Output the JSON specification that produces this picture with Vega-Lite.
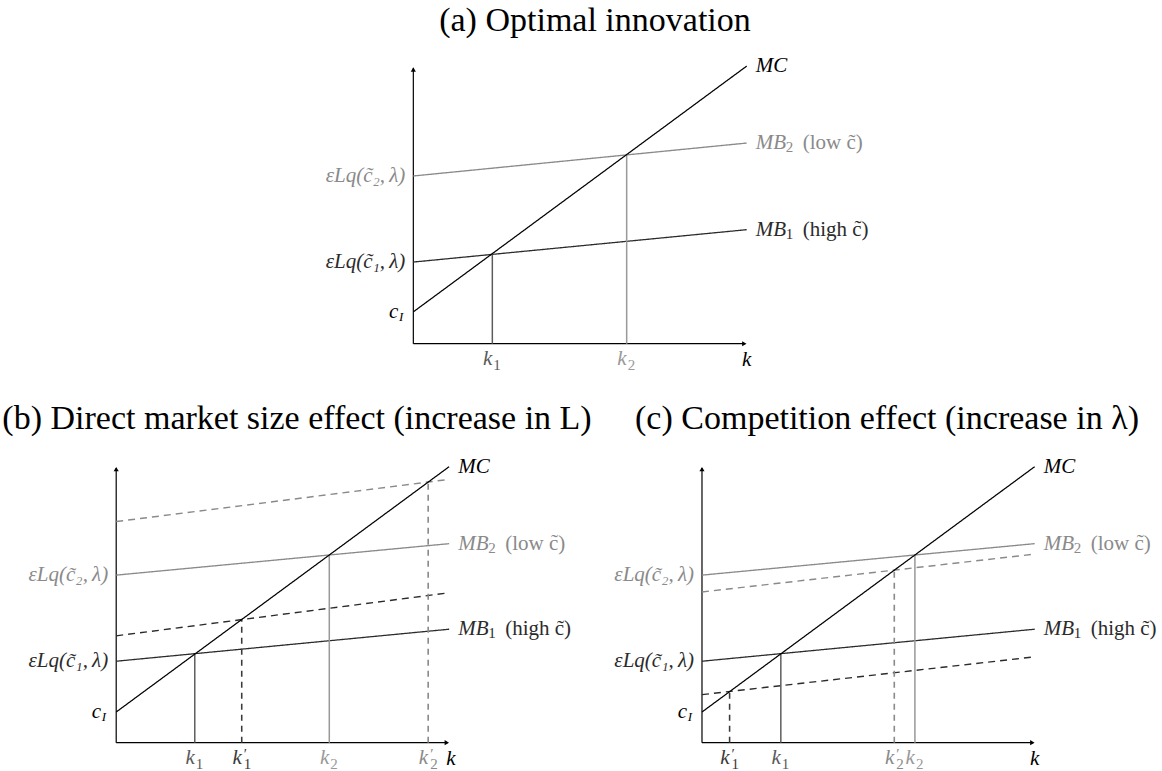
{
  "$schema": "https://vega.github.io/schema/vega-lite/v6.json",
  "padding": {"top": 4, "left": 0, "right": 0, "bottom": 0},
  "background": "white",
  "config": {
    "view": {"stroke": null},
    "title": {"font": "Liberation Serif", "fontSize": 34, "fontWeight": "normal", "color": "#000000", "baseline": "alphabetic"},
    "text": {"font": "Liberation Serif", "baseline": "middle", "fontSize": 21}
  },
  "datasets": {
    "arrows": [
      {"x": 9.93, "y": 0, "dir": "right"},
      {"x": 0, "y": 9.91, "dir": "up"}
    ],
    "a_lines": [
      {"curve": "axis", "x": 0, "y": 0, "x2": 9.95, "y2": 0},
      {"curve": "axis", "x": 0, "y": 0, "x2": 0, "y2": 9.95},
      {"curve": "MB2", "x": 0, "y": 6.06, "x2": 10, "y2": 7.25},
      {"curve": "MB1", "x": 0, "y": 2.95, "x2": 10, "y2": 4.12},
      {"curve": "k1", "x": 2.37, "y": 0, "x2": 2.37, "y2": 3.24},
      {"curve": "k2", "x": 6.4, "y": 0, "x2": 6.4, "y2": 6.82},
      {"curve": "MC", "x": 0, "y": 1.15, "x2": 10, "y2": 10.03}
    ],
    "b_lines": [
      {"curve": "axis", "x": 0, "y": 0, "x2": 9.95, "y2": 0},
      {"curve": "axis", "x": 0, "y": 0, "x2": 0, "y2": 9.95},
      {"curve": "MB2 shifted", "x": 0, "y": 8.01, "x2": 10, "y2": 9.54},
      {"curve": "MB2", "x": 0, "y": 6.07, "x2": 10, "y2": 7.21},
      {"curve": "MB1 shifted", "x": 0, "y": 3.87, "x2": 10, "y2": 5.43},
      {"curve": "MB1", "x": 0, "y": 2.95, "x2": 10, "y2": 4.11},
      {"curve": "k1", "x": 2.36, "y": 0, "x2": 2.36, "y2": 3.21},
      {"curve": "k1 shifted", "x": 3.77, "y": 0, "x2": 3.77, "y2": 4.46},
      {"curve": "k2", "x": 6.4, "y": 0, "x2": 6.4, "y2": 6.8},
      {"curve": "k2 shifted", "x": 9.37, "y": 0, "x2": 9.37, "y2": 9.44},
      {"curve": "MC", "x": 0, "y": 1.11, "x2": 10, "y2": 10.0}
    ],
    "c_lines": [
      {"curve": "axis", "x": 0, "y": 0, "x2": 9.95, "y2": 0},
      {"curve": "axis", "x": 0, "y": 0, "x2": 0, "y2": 9.95},
      {"curve": "MB2", "x": 0, "y": 6.07, "x2": 10, "y2": 7.21},
      {"curve": "MB2 shifted", "x": 0, "y": 5.46, "x2": 10, "y2": 6.83},
      {"curve": "MB1", "x": 0, "y": 2.95, "x2": 10, "y2": 4.11},
      {"curve": "MB1 shifted", "x": 0, "y": 1.74, "x2": 10, "y2": 3.11},
      {"curve": "k1 shifted", "x": 0.83, "y": 0, "x2": 0.83, "y2": 1.85},
      {"curve": "k1", "x": 2.37, "y": 0, "x2": 2.37, "y2": 3.22},
      {"curve": "k2 shifted", "x": 5.78, "y": 0, "x2": 5.78, "y2": 6.25},
      {"curve": "k2", "x": 6.4, "y": 0, "x2": 6.4, "y2": 6.8},
      {"curve": "MC", "x": 0, "y": 1.11, "x2": 10, "y2": 10.0}
    ],
    "a_labels": [
      {"role": "left", "x": 0, "y": 6.06, "text": "\u03b5Lq(c\u0303\u2082,\u2009\u03bb)", "curve": "MB2"},
      {"role": "left", "x": 0, "y": 2.95, "text": "\u03b5Lq(c\u0303\u2081,\u2009\u03bb)", "curve": "MB1"},
      {"role": "cI", "x": 0, "y": 1.15, "text": "c", "curve": "MC"},
      {"role": "cIsub", "x": 0, "y": 1.15, "text": "I", "curve": "MC"},
      {"role": "rightmain", "x": 10, "y": 10.03, "text": "MC", "curve": "MC"},
      {"role": "rightmain", "x": 10, "y": 7.25, "text": "MB", "curve": "MB2"},
      {"role": "rightsub", "x": 10, "y": 7.25, "text": "2", "curve": "MB2"},
      {"role": "note", "x": 10, "y": 7.25, "text": "(low c\u0303)", "curve": "MB2"},
      {"role": "rightmain", "x": 10, "y": 4.12, "text": "MB", "curve": "MB1"},
      {"role": "rightsub", "x": 10, "y": 4.12, "text": "1", "curve": "MB1"},
      {"role": "note", "x": 10, "y": 4.12, "text": "(high c\u0303)", "curve": "MB1"},
      {"role": "kmain", "x": 2.37, "y": 0, "text": "k", "curve": "k1"},
      {"role": "ksub", "x": 2.37, "y": 0, "text": "1", "curve": "k1"},
      {"role": "kmain", "x": 6.4, "y": 0, "text": "k", "curve": "k2"},
      {"role": "ksub", "x": 6.4, "y": 0, "text": "2", "curve": "k2"},
      {"role": "axislabel", "x": 10, "y": 0, "text": "k", "curve": "axis"}
    ],
    "b_labels": [
      {"role": "left", "x": 0, "y": 6.07, "text": "\u03b5Lq(c\u0303\u2082,\u2009\u03bb)", "curve": "MB2"},
      {"role": "left", "x": 0, "y": 2.95, "text": "\u03b5Lq(c\u0303\u2081,\u2009\u03bb)", "curve": "MB1"},
      {"role": "cI", "x": 0, "y": 1.11, "text": "c", "curve": "MC"},
      {"role": "cIsub", "x": 0, "y": 1.11, "text": "I", "curve": "MC"},
      {"role": "rightmain", "x": 10, "y": 10.0, "text": "MC", "curve": "MC"},
      {"role": "rightmain", "x": 10, "y": 7.21, "text": "MB", "curve": "MB2"},
      {"role": "rightsub", "x": 10, "y": 7.21, "text": "2", "curve": "MB2"},
      {"role": "note", "x": 10, "y": 7.21, "text": "(low c\u0303)", "curve": "MB2"},
      {"role": "rightmain", "x": 10, "y": 4.11, "text": "MB", "curve": "MB1"},
      {"role": "rightsub", "x": 10, "y": 4.11, "text": "1", "curve": "MB1"},
      {"role": "note", "x": 10, "y": 4.11, "text": "(high c\u0303)", "curve": "MB1"},
      {"role": "kmain", "x": 2.36, "y": 0, "text": "k", "curve": "k1"},
      {"role": "ksub", "x": 2.36, "y": 0, "text": "1", "curve": "k1"},
      {"role": "kmain", "x": 3.77, "y": 0, "text": "k", "curve": "k1 shifted"},
      {"role": "kprimesub", "x": 3.77, "y": 0, "text": "\u2032\n1", "curve": "k1 shifted"},
      {"role": "kmain", "x": 6.4, "y": 0, "text": "k", "curve": "k2"},
      {"role": "ksub", "x": 6.4, "y": 0, "text": "2", "curve": "k2"},
      {"role": "kmain", "x": 9.37, "y": 0, "text": "k", "curve": "k2 shifted"},
      {"role": "kprimesub", "x": 9.37, "y": 0, "text": "\u2032\n2", "curve": "k2 shifted"},
      {"role": "axislabel", "x": 10.05, "y": 0, "text": "k", "curve": "axis"}
    ],
    "c_labels": [
      {"role": "left", "x": 0, "y": 6.07, "text": "\u03b5Lq(c\u0303\u2082,\u2009\u03bb)", "curve": "MB2"},
      {"role": "left", "x": 0, "y": 2.95, "text": "\u03b5Lq(c\u0303\u2081,\u2009\u03bb)", "curve": "MB1"},
      {"role": "cI", "x": 0, "y": 1.11, "text": "c", "curve": "MC"},
      {"role": "cIsub", "x": 0, "y": 1.11, "text": "I", "curve": "MC"},
      {"role": "rightmain", "x": 10, "y": 10.0, "text": "MC", "curve": "MC"},
      {"role": "rightmain", "x": 10, "y": 7.21, "text": "MB", "curve": "MB2"},
      {"role": "rightsub", "x": 10, "y": 7.21, "text": "2", "curve": "MB2"},
      {"role": "note", "x": 10, "y": 7.21, "text": "(low c\u0303)", "curve": "MB2"},
      {"role": "rightmain", "x": 10, "y": 4.11, "text": "MB", "curve": "MB1"},
      {"role": "rightsub", "x": 10, "y": 4.11, "text": "1", "curve": "MB1"},
      {"role": "note", "x": 10, "y": 4.11, "text": "(high c\u0303)", "curve": "MB1"},
      {"role": "kmain", "x": 0.83, "y": 0, "text": "k", "curve": "k1 shifted"},
      {"role": "kprimesub", "x": 0.83, "y": 0, "text": "\u2032\n1", "curve": "k1 shifted"},
      {"role": "kmain", "x": 2.37, "y": 0, "text": "k", "curve": "k1"},
      {"role": "ksub", "x": 2.37, "y": 0, "text": "1", "curve": "k1"},
      {"role": "kmain", "x": 5.78, "y": 0, "text": "k", "curve": "k2 shifted"},
      {"role": "kprimesub", "x": 5.78, "y": 0, "text": "\u2032\n2", "curve": "k2 shifted"},
      {"role": "kmain", "x": 6.4, "y": 0, "text": "k", "curve": "k2"},
      {"role": "ksub", "x": 6.4, "y": 0, "text": "2", "curve": "k2"},
      {"role": "axislabel", "x": 10, "y": 0, "text": "k", "curve": "axis"}
    ]
  },
  "spacing": 27,
  "resolve": {"scale": {"x": "independent", "y": "independent"}},
  "vconcat": [
    {
      "width": 1162,
      "height": 322,
      "title": {"text": "(a) Optimal innovation", "offset": 14, "dx": 14},
      "encoding": {
        "x": {"field": "x", "type": "quantitative", "scale": {"domain": [-12.4, 22.46], "nice": false, "zero": false}, "axis": null},
        "y": {"field": "y", "type": "quantitative", "scale": {"domain": [-1.095, 10.54], "nice": false, "zero": false}, "axis": null}
      },
      "layer": [
        {"data": {"name": "a_lines"}, "mark": {"type": "rule"},
         "encoding": {
           "x2": {"field": "x2"}, "y2": {"field": "y2"},
           "color": {"field": "curve", "type": "nominal", "legend": null, "scale": {"domain": ["axis","MC","MB1","MB2","MB1 shifted","MB2 shifted","k1","k2","k1 shifted","k2 shifted"], "range": ["#000000","#000000","#2b2b2b","#8a8a8a","#2b2b2b","#8a8a8a","#5a5a5a","#999999","#3a3a3a","#8a8a8a"]}},
           "strokeDash": {"field": "curve", "type": "nominal", "legend": null, "scale": {"domain": ["axis","MC","MB1","MB2","MB1 shifted","MB2 shifted","k1","k2","k1 shifted","k2 shifted"], "range": [[1,0],[1,0],[1,0],[1,0],[7,5],[7,5],[1,0],[1,0],[6,5],[6,5]]}},
           "strokeWidth": {"field": "curve", "type": "nominal", "legend": null, "scale": {"domain": ["axis","MC","MB1","MB2","MB1 shifted","MB2 shifted","k1","k2","k1 shifted","k2 shifted"], "range": [1.2,1.6,1.3,1.2,1.3,1.2,1.0,1.0,1.0,1.0]}}
         }},
        {"data": {"name": "arrows"}, "mark": {"type": "point", "filled": true, "size": 26, "opacity": 1, "color": "#000000"},
         "encoding": {"shape": {"field": "dir", "type": "nominal", "legend": null, "scale": {"domain": ["right","up"], "range": ["triangle-right","triangle-up"]}}}},
        {"data": {"name": "a_labels"}, "transform": [{"filter": "datum.role === 'left'"}],
         "mark": {"type": "text", "align": "right", "dx": -8, "fontStyle": "italic"},
         "encoding": {"text": {"field": "text"}, "color": {"field": "curve", "type": "nominal", "legend": null}}},
        {"data": {"name": "a_labels"}, "transform": [{"filter": "datum.role === 'cI'"}],
         "mark": {"type": "text", "align": "right", "dx": -15, "fontStyle": "italic"},
         "encoding": {"text": {"field": "text"}, "color": {"field": "curve", "type": "nominal", "legend": null}}},
        {"data": {"name": "a_labels"}, "transform": [{"filter": "datum.role === 'cIsub'"}],
         "mark": {"type": "text", "align": "right", "dx": -10, "dy": 5, "fontStyle": "italic", "fontSize": 13},
         "encoding": {"text": {"field": "text"}, "color": {"field": "curve", "type": "nominal", "legend": null}}},
        {"data": {"name": "a_labels"}, "transform": [{"filter": "datum.role === 'rightmain'"}],
         "mark": {"type": "text", "align": "left", "dx": 9, "fontStyle": "italic"},
         "encoding": {"text": {"field": "text"}, "color": {"field": "curve", "type": "nominal", "legend": null}}},
        {"data": {"name": "a_labels"}, "transform": [{"filter": "datum.role === 'rightsub'"}],
         "mark": {"type": "text", "align": "left", "dx": 39, "dy": 4, "fontSize": 15},
         "encoding": {"text": {"field": "text"}, "color": {"field": "curve", "type": "nominal", "legend": null}}},
        {"data": {"name": "a_labels"}, "transform": [{"filter": "datum.role === 'note'"}],
         "mark": {"type": "text", "align": "left", "dx": 56},
         "encoding": {"text": {"field": "text"}, "color": {"field": "curve", "type": "nominal", "legend": null}}},
        {"data": {"name": "a_labels"}, "transform": [{"filter": "datum.role === 'kmain'"}],
         "mark": {"type": "text", "align": "right", "dx": 0, "dy": 15, "fontStyle": "italic"},
         "encoding": {"text": {"field": "text"}, "color": {"field": "curve", "type": "nominal", "legend": null}}},
        {"data": {"name": "a_labels"}, "transform": [{"filter": "datum.role === 'ksub'"}],
         "mark": {"type": "text", "align": "left", "dx": 1, "dy": 21, "fontSize": 15},
         "encoding": {"text": {"field": "text"}, "color": {"field": "curve", "type": "nominal", "legend": null}}},
        {"data": {"name": "a_labels"}, "transform": [{"filter": "datum.role === 'axislabel'"}],
         "mark": {"type": "text", "align": "center", "dy": 16, "fontStyle": "italic"},
         "encoding": {"text": {"field": "text"}, "color": {"field": "curve", "type": "nominal", "legend": null}}}
      ]
    },
    {
      "spacing": 0,
      "resolve": {"scale": {"x": "independent", "y": "independent"}},
      "hconcat": [
        {
          "width": 590,
          "height": 316,
          "title": {"text": "(b) Direct market size effect (increase in L)", "offset": 20, "dx": 2},
          "encoding": {
            "x": {"field": "x", "type": "quantitative", "scale": {"domain": [-3.49, 14.23], "nice": false, "zero": false}, "axis": null},
            "y": {"field": "y", "type": "quantitative", "scale": {"domain": [-1.10, 10.35], "nice": false, "zero": false}, "axis": null}
          },
          "layer": [
            {"data": {"name": "b_lines"}, "mark": {"type": "rule"},
             "encoding": {
               "x2": {"field": "x2"}, "y2": {"field": "y2"},
               "color": {"field": "curve", "type": "nominal", "legend": null, "scale": {"domain": ["axis","MC","MB1","MB2","MB1 shifted","MB2 shifted","k1","k2","k1 shifted","k2 shifted"], "range": ["#000000","#000000","#2b2b2b","#8a8a8a","#2b2b2b","#8a8a8a","#5a5a5a","#999999","#3a3a3a","#8a8a8a"]}},
               "strokeDash": {"field": "curve", "type": "nominal", "legend": null, "scale": {"domain": ["axis","MC","MB1","MB2","MB1 shifted","MB2 shifted","k1","k2","k1 shifted","k2 shifted"], "range": [[1,0],[1,0],[1,0],[1,0],[7,5],[7,5],[1,0],[1,0],[6,5],[6,5]]}},
               "strokeWidth": {"field": "curve", "type": "nominal", "legend": null, "scale": {"domain": ["axis","MC","MB1","MB2","MB1 shifted","MB2 shifted","k1","k2","k1 shifted","k2 shifted"], "range": [1.2,1.6,1.3,1.2,1.3,1.2,1.0,1.0,1.0,1.0]}}
             }},
            {"data": {"name": "arrows"}, "mark": {"type": "point", "filled": true, "size": 26, "opacity": 1, "color": "#000000"},
             "encoding": {"shape": {"field": "dir", "type": "nominal", "legend": null, "scale": {"domain": ["right","up"], "range": ["triangle-right","triangle-up"]}}}},
            {"data": {"name": "b_labels"}, "transform": [{"filter": "datum.role === 'left'"}],
             "mark": {"type": "text", "align": "right", "dx": -8, "fontStyle": "italic"},
             "encoding": {"text": {"field": "text"}, "color": {"field": "curve", "type": "nominal", "legend": null}}},
            {"data": {"name": "b_labels"}, "transform": [{"filter": "datum.role === 'cI'"}],
             "mark": {"type": "text", "align": "right", "dx": -15, "fontStyle": "italic"},
             "encoding": {"text": {"field": "text"}, "color": {"field": "curve", "type": "nominal", "legend": null}}},
            {"data": {"name": "b_labels"}, "transform": [{"filter": "datum.role === 'cIsub'"}],
             "mark": {"type": "text", "align": "right", "dx": -10, "dy": 5, "fontStyle": "italic", "fontSize": 13},
             "encoding": {"text": {"field": "text"}, "color": {"field": "curve", "type": "nominal", "legend": null}}},
            {"data": {"name": "b_labels"}, "transform": [{"filter": "datum.role === 'rightmain'"}],
             "mark": {"type": "text", "align": "left", "dx": 9, "fontStyle": "italic"},
             "encoding": {"text": {"field": "text"}, "color": {"field": "curve", "type": "nominal", "legend": null}}},
            {"data": {"name": "b_labels"}, "transform": [{"filter": "datum.role === 'rightsub'"}],
             "mark": {"type": "text", "align": "left", "dx": 39, "dy": 4, "fontSize": 15},
             "encoding": {"text": {"field": "text"}, "color": {"field": "curve", "type": "nominal", "legend": null}}},
            {"data": {"name": "b_labels"}, "transform": [{"filter": "datum.role === 'note'"}],
             "mark": {"type": "text", "align": "left", "dx": 56},
             "encoding": {"text": {"field": "text"}, "color": {"field": "curve", "type": "nominal", "legend": null}}},
            {"data": {"name": "b_labels"}, "transform": [{"filter": "datum.role === 'kmain'"}],
             "mark": {"type": "text", "align": "right", "dx": 0, "dy": 15, "fontStyle": "italic"},
             "encoding": {"text": {"field": "text"}, "color": {"field": "curve", "type": "nominal", "legend": null}}},
            {"data": {"name": "b_labels"}, "transform": [{"filter": "datum.role === 'ksub'"}],
             "mark": {"type": "text", "align": "left", "dx": 1, "dy": 21, "fontSize": 15},
             "encoding": {"text": {"field": "text"}, "color": {"field": "curve", "type": "nominal", "legend": null}}},
            {"data": {"name": "b_labels"}, "transform": [{"filter": "datum.role === 'kprimesub'"}],
             "mark": {"type": "text", "align": "left", "dx": 2, "dy": 11, "fontSize": 15, "lineBreak": "\n", "lineHeight": 10},
             "encoding": {"text": {"field": "text"}, "color": {"field": "curve", "type": "nominal", "legend": null}}},
            {"data": {"name": "b_labels"}, "transform": [{"filter": "datum.role === 'axislabel'"}],
             "mark": {"type": "text", "align": "center", "dy": 16, "fontStyle": "italic"},
             "encoding": {"text": {"field": "text"}, "color": {"field": "curve", "type": "nominal", "legend": null}}}
          ]
        },
        {
          "width": 572,
          "height": 316,
          "title": {"text": "(c) Competition effect (increase in \u03bb)", "offset": 20, "dx": 9},
          "encoding": {
            "x": {"field": "x", "type": "quantitative", "scale": {"domain": [-3.306, 13.887], "nice": false, "zero": false}, "axis": null},
            "y": {"field": "y", "type": "quantitative", "scale": {"domain": [-1.10, 10.35], "nice": false, "zero": false}, "axis": null}
          },
          "layer": [
            {"data": {"name": "c_lines"}, "mark": {"type": "rule"},
             "encoding": {
               "x2": {"field": "x2"}, "y2": {"field": "y2"},
               "color": {"field": "curve", "type": "nominal", "legend": null, "scale": {"domain": ["axis","MC","MB1","MB2","MB1 shifted","MB2 shifted","k1","k2","k1 shifted","k2 shifted"], "range": ["#000000","#000000","#2b2b2b","#8a8a8a","#2b2b2b","#8a8a8a","#5a5a5a","#999999","#3a3a3a","#8a8a8a"]}},
               "strokeDash": {"field": "curve", "type": "nominal", "legend": null, "scale": {"domain": ["axis","MC","MB1","MB2","MB1 shifted","MB2 shifted","k1","k2","k1 shifted","k2 shifted"], "range": [[1,0],[1,0],[1,0],[1,0],[7,5],[7,5],[1,0],[1,0],[6,5],[6,5]]}},
               "strokeWidth": {"field": "curve", "type": "nominal", "legend": null, "scale": {"domain": ["axis","MC","MB1","MB2","MB1 shifted","MB2 shifted","k1","k2","k1 shifted","k2 shifted"], "range": [1.2,1.6,1.3,1.2,1.3,1.2,1.0,1.0,1.0,1.0]}}
             }},
            {"data": {"name": "arrows"}, "mark": {"type": "point", "filled": true, "size": 26, "opacity": 1, "color": "#000000"},
             "encoding": {"shape": {"field": "dir", "type": "nominal", "legend": null, "scale": {"domain": ["right","up"], "range": ["triangle-right","triangle-up"]}}}},
            {"data": {"name": "c_labels"}, "transform": [{"filter": "datum.role === 'left'"}],
             "mark": {"type": "text", "align": "right", "dx": -8, "fontStyle": "italic"},
             "encoding": {"text": {"field": "text"}, "color": {"field": "curve", "type": "nominal", "legend": null}}},
            {"data": {"name": "c_labels"}, "transform": [{"filter": "datum.role === 'cI'"}],
             "mark": {"type": "text", "align": "right", "dx": -15, "fontStyle": "italic"},
             "encoding": {"text": {"field": "text"}, "color": {"field": "curve", "type": "nominal", "legend": null}}},
            {"data": {"name": "c_labels"}, "transform": [{"filter": "datum.role === 'cIsub'"}],
             "mark": {"type": "text", "align": "right", "dx": -10, "dy": 5, "fontStyle": "italic", "fontSize": 13},
             "encoding": {"text": {"field": "text"}, "color": {"field": "curve", "type": "nominal", "legend": null}}},
            {"data": {"name": "c_labels"}, "transform": [{"filter": "datum.role === 'rightmain'"}],
             "mark": {"type": "text", "align": "left", "dx": 9, "fontStyle": "italic"},
             "encoding": {"text": {"field": "text"}, "color": {"field": "curve", "type": "nominal", "legend": null}}},
            {"data": {"name": "c_labels"}, "transform": [{"filter": "datum.role === 'rightsub'"}],
             "mark": {"type": "text", "align": "left", "dx": 39, "dy": 4, "fontSize": 15},
             "encoding": {"text": {"field": "text"}, "color": {"field": "curve", "type": "nominal", "legend": null}}},
            {"data": {"name": "c_labels"}, "transform": [{"filter": "datum.role === 'note'"}],
             "mark": {"type": "text", "align": "left", "dx": 56},
             "encoding": {"text": {"field": "text"}, "color": {"field": "curve", "type": "nominal", "legend": null}}},
            {"data": {"name": "c_labels"}, "transform": [{"filter": "datum.role === 'kmain'"}],
             "mark": {"type": "text", "align": "right", "dx": 0, "dy": 15, "fontStyle": "italic"},
             "encoding": {"text": {"field": "text"}, "color": {"field": "curve", "type": "nominal", "legend": null}}},
            {"data": {"name": "c_labels"}, "transform": [{"filter": "datum.role === 'ksub'"}],
             "mark": {"type": "text", "align": "left", "dx": 1, "dy": 21, "fontSize": 15},
             "encoding": {"text": {"field": "text"}, "color": {"field": "curve", "type": "nominal", "legend": null}}},
            {"data": {"name": "c_labels"}, "transform": [{"filter": "datum.role === 'kprimesub'"}],
             "mark": {"type": "text", "align": "left", "dx": 2, "dy": 11, "fontSize": 15, "lineBreak": "\n", "lineHeight": 10},
             "encoding": {"text": {"field": "text"}, "color": {"field": "curve", "type": "nominal", "legend": null}}},
            {"data": {"name": "c_labels"}, "transform": [{"filter": "datum.role === 'axislabel'"}],
             "mark": {"type": "text", "align": "center", "dy": 16, "fontStyle": "italic"},
             "encoding": {"text": {"field": "text"}, "color": {"field": "curve", "type": "nominal", "legend": null}}}
          ]
        }
      ]
    }
  ]
}
